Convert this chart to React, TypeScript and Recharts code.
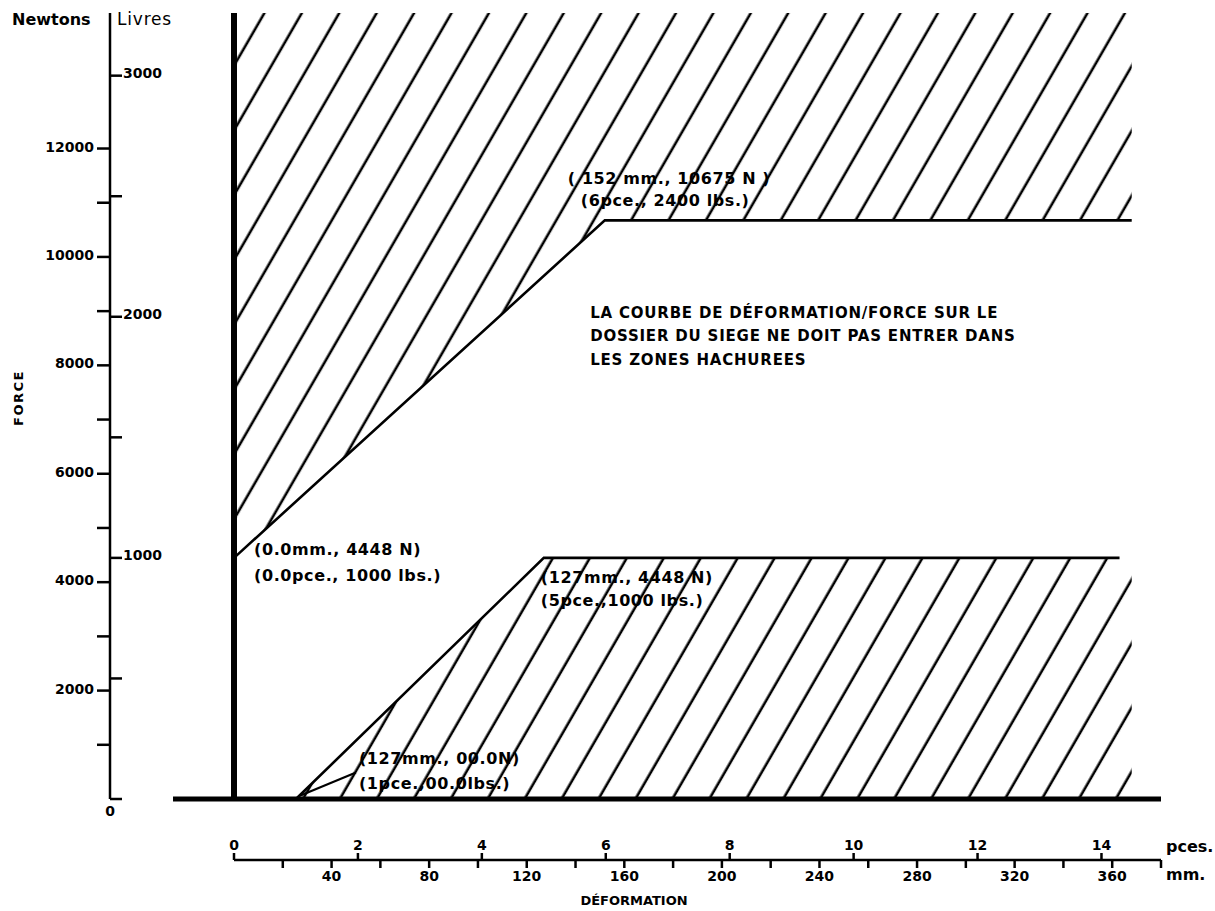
import {
  ComposedChart,
  XAxis,
  YAxis,
  Area,
  Line,
  ReferenceLine,
  ReferenceDot,
  Label,
} from 'recharts';

const FONT = '"DejaVu Sans", sans-serif';
const INK = '#000';

// conversions for the secondary scales
const N_PER_LB = 4.448;
const MM_PER_IN = 25.4;

const FORCE_MAX = 14500; // N, top of the drawing
const DEFORM_MAX = 380; // mm

// tick values
const NEWTON_TICKS = [0, 1000, 2000, 3000, 4000, 5000, 6000, 7000, 8000, 9000, 10000, 11000, 12000];
const NEWTON_LABELS = [2000, 4000, 6000, 8000, 10000, 12000];
const LBS_TICKS = [0, 500, 1000, 1500, 2000, 2500, 3000];
const LBS_LABELS = [1000, 2000, 3000];
const MM_TICKS = [20, 40, 60, 80, 100, 120, 140, 160, 180, 200, 220, 240, 260, 280, 300, 320, 340, 360, 380];
const MM_LABELS = [40, 80, 120, 160, 200, 240, 280, 320, 360];
const PCES_TICKS = [0, 2, 4, 6, 8, 10, 12, 14];

// hatched zones (mm, N)
const UPPER_LIMIT = [
  { mm: 0, n: 4448 },
  { mm: 152, n: 10675 },
  { mm: 368, n: 10675 },
];
const LOWER_LIMIT = [
  { mm: 25.4, n: 0 },
  { mm: 127, n: 4448 },
  { mm: 368, n: 4448 },
];
// drawn edge of the lower zone stops a bit before the hatching
const LOWER_EDGE = [
  { mm: 25.4, n: 0 },
  { mm: 127, n: 4448 },
  { mm: 363, n: 4448 },
];
const LEADER = [
  { mm: 27, n: 60 },
  { mm: 50, n: 490 },
];
const GROUND = [
  { x: -25, y: 0 },
  { x: DEFORM_MAX, y: 0 },
];

const POINT_NOTES = [
  { mm: 0, n: 4448, lines: ['(0.0mm., 4448 N)', '(0.0pce., 1000 lbs.)'] },
  { mm: 127, n: 4448, lines: ['(127mm., 4448 N)', '(5pce.,1000 lbs.)'] },
  { mm: 25.4, n: 0, lines: ['(127mm., 00.0N)', '(1pce.,00.0lbs.)'] },
  { mm: 152, n: 10675, lines: ['( 152 mm., 10675 N )', '(6pce., 2400 lbs.)'] },
];
// pixel shift of each text line from its point
const NOTE_SHIFTS = [
  [[20, -8], [20, 18]],
  [[-3, 20], [-3, 43]],
  [[63, -41], [63, -16]],
  [[-37, -42], [-24, -20]],
];

const WARNING = [
  'LA COURBE DE DÉFORMATION/FORCE SUR LE',
  'DOSSIER DU SIEGE NE DOIT PAS ENTRER DANS',
  'LES ZONES HACHUREES',
];
const WARNING_AT = { mm: 146, n: 8970 };

const NEWTON_W = 110;
const LBS_W = 124;
const PCES_H = 61;
const MM_H = 44;

const numStyle = { fontFamily: FONT, fontWeight: 700, fontSize: 14, fill: INK };

const NewtonTick = ({ x, y, payload }: any) => {
  const v = payload.value;
  if (v === 0) {
    return (
      <text x={x} y={y + 12} textAnchor="middle" dominantBaseline="central" style={numStyle}>
        0
      </text>
    );
  }
  return (
    <g>
      <line x1={x - 13} y1={y} x2={x} y2={y} stroke={INK} strokeWidth={2.5} />
      {NEWTON_LABELS.includes(v) && (
        <text x={x - 16} y={y - 2} textAnchor="end" dominantBaseline="central" style={numStyle}>
          {v}
        </text>
      )}
    </g>
  );
};

// livres ticks hang off the right side of the newton line
const LbsTick = ({ x, y, payload }: any) => {
  const x0 = x - LBS_W;
  const v = payload.value;
  return (
    <g>
      <line x1={x0} y1={y} x2={x0 + 12} y2={y} stroke={INK} strokeWidth={2.5} />
      {LBS_LABELS.includes(v) && (
        <text x={x0 + 13} y={y - 3} dominantBaseline="central" style={numStyle}>
          {v}
        </text>
      )}
    </g>
  );
};

// inch ticks sit on top of the mm line
const PcesTick = ({ x, y, payload }: any) => {
  const y0 = y + PCES_H;
  return (
    <g>
      <line x1={x} y1={y0 - 7} x2={x} y2={y0} stroke={INK} strokeWidth={2.5} />
      <text x={x} y={y0 - 10} textAnchor="middle" style={numStyle}>
        {payload.value}
      </text>
    </g>
  );
};

const Caption = ({ viewBox, text, shiftX = 0, shiftY = 0, size = 16, weight = 700, anchor = 'start', rotate = 0, spacing = 0 }: any) => {
  const x = viewBox.x + shiftX;
  const y = viewBox.y + shiftY;
  return (
    <text
      x={x}
      y={y}
      textAnchor={anchor}
      dominantBaseline="central"
      transform={rotate ? `rotate(${rotate}, ${x}, ${y})` : undefined}
      style={{ fontFamily: FONT, fontWeight: weight, fontSize: size, fill: INK, letterSpacing: spacing }}
    >
      {text}
    </text>
  );
};

const NoteText = ({ viewBox, lines, shifts, size = 16, spacing = 0.6, gap = 0 }: any) => {
  const cx = viewBox.x + viewBox.width / 2;
  const cy = viewBox.y + viewBox.height / 2;
  return (
    <g>
      {lines.map((t: string, i: number) => (
        <text
          key={i}
          x={cx + (shifts ? shifts[i][0] : 0)}
          y={cy + (shifts ? shifts[i][1] : i * gap)}
          dominantBaseline="central"
          style={{ fontFamily: FONT, fontWeight: 700, fontSize: size, fill: INK, letterSpacing: spacing }}
        >
          {t}
        </text>
      ))}
    </g>
  );
};

export default function App() {
  const upperZone = UPPER_LIMIT.map((p) => ({ mm: p.mm, lo: p.n, hi: FORCE_MAX }));
  // same limit expressed in inches, only so the inch scale has data behind it
  const upperInches = UPPER_LIMIT.map((p) => ({ in: p.mm / MM_PER_IN, n: p.n }));

  return (
    <div style={{ position: 'absolute', left: 0, top: 0, background: '#fff' }}>
      <ComposedChart width={1215} height={911} margin={{ top: 13, right: 54, bottom: 7, left: 0 }}>
        <defs>
          <pattern id="hatchUp" patternUnits="userSpaceOnUse" width={32.4} height={32} patternTransform="rotate(30)">
            <line x1={8.7} y1={-2} x2={8.7} y2={34} stroke={INK} strokeWidth={2.6} />
          </pattern>
          <pattern id="hatchLow" patternUnits="userSpaceOnUse" width={32} height={32} patternTransform="rotate(30)">
            <line x1={21.8} y1={-2} x2={21.8} y2={34} stroke={INK} strokeWidth={2.6} />
          </pattern>
        </defs>

        <XAxis
          xAxisId="in"
          dataKey="in"
          type="number"
          orientation="bottom"
          domain={[0, DEFORM_MAX / MM_PER_IN]}
          allowDataOverflow
          ticks={PCES_TICKS}
          interval={0}
          height={PCES_H}
          tickSize={0}
          tickMargin={0}
          axisLine={false}
          tickLine={false}
          tick={PcesTick}
          label={<Caption text="pces." shiftX={927 + 5} shiftY={47} size={16} />}
        />
        <XAxis
          xAxisId="mm"
          dataKey="mm"
          type="number"
          orientation="bottom"
          domain={[0, DEFORM_MAX]}
          allowDataOverflow
          ticks={MM_TICKS}
          interval={0}
          height={MM_H}
          tickSize={8}
          tickMargin={3}
          axisLine={{ stroke: INK, strokeWidth: 2.5 }}
          tickLine={{ stroke: INK, strokeWidth: 2.5 }}
          tick={numStyle}
          tickFormatter={(v: number) => (MM_LABELS.includes(v) ? String(v) : '')}
        >
          <Label content={<Caption text="mm." shiftX={927 + 5} shiftY={14} size={16} />} />
          <Label content={<Caption text="DÉFORMATION" shiftX={400} shiftY={40} size={13} anchor="middle" />} />
        </XAxis>

        <YAxis
          yAxisId="lbs"
          type="number"
          orientation="left"
          domain={[0, FORCE_MAX / N_PER_LB]}
          allowDataOverflow
          ticks={LBS_TICKS}
          interval={0}
          width={LBS_W}
          tickSize={0}
          tickMargin={0}
          axisLine={false}
          tickLine={false}
          tick={LbsTick}
          label={<Caption text="Livres" shiftX={7} shiftY={6} size={17} weight={400} spacing={0.8} />}
        />
        <YAxis
          yAxisId="n"
          type="number"
          orientation="left"
          domain={[0, FORCE_MAX]}
          allowDataOverflow
          ticks={NEWTON_TICKS}
          interval={0}
          width={NEWTON_W}
          tickSize={0}
          tickMargin={0}
          axisLine={{ stroke: INK, strokeWidth: 2.5 }}
          tickLine={false}
          tick={NewtonTick}
        >
          <Label content={<Caption text="Newtons" shiftX={12} shiftY={6} size={16} />} />
          <Label content={<Caption text="FORCE" shiftX={18} shiftY={385} size={13} rotate={-90} anchor="middle" spacing={1.5} />} />
        </YAxis>

        <Area
          xAxisId="mm"
          yAxisId="n"
          data={upperZone}
          dataKey={(d: any) => [d.lo, d.hi]}
          type="linear"
          stroke="none"
          fill="url(#hatchUp)"
          fillOpacity={1}
          isAnimationActive={false}
          activeDot={false}
        />
        <Area
          xAxisId="mm"
          yAxisId="n"
          data={LOWER_LIMIT}
          dataKey="n"
          baseValue={0}
          type="linear"
          stroke="none"
          fill="url(#hatchLow)"
          fillOpacity={1}
          isAnimationActive={false}
          activeDot={false}
        />

        <Line
          xAxisId="in"
          yAxisId="n"
          data={upperInches}
          dataKey="n"
          type="linear"
          stroke="none"
          dot={false}
          activeDot={false}
          legendType="none"
          isAnimationActive={false}
        />
        <Line
          xAxisId="mm"
          yAxisId="n"
          data={UPPER_LIMIT}
          dataKey="n"
          type="linear"
          stroke={INK}
          strokeWidth={2.6}
          dot={false}
          activeDot={false}
          isAnimationActive={false}
        />
        <Line
          xAxisId="mm"
          yAxisId="n"
          data={LOWER_EDGE}
          dataKey="n"
          type="linear"
          stroke={INK}
          strokeWidth={2.6}
          dot={false}
          activeDot={false}
          isAnimationActive={false}
        />
        <Line
          xAxisId="mm"
          yAxisId="n"
          data={LEADER}
          dataKey="n"
          type="linear"
          stroke={INK}
          strokeWidth={2.2}
          dot={false}
          activeDot={false}
          isAnimationActive={false}
        />

        <ReferenceLine xAxisId="mm" yAxisId="n" x={0} stroke={INK} strokeWidth={6} />
        <ReferenceLine
          xAxisId="mm"
          yAxisId="n"
          segment={GROUND}
          ifOverflow="visible"
          stroke={INK}
          strokeWidth={5}
        />

        {POINT_NOTES.map((p, i) => (
          <ReferenceDot
            key={i}
            xAxisId="mm"
            yAxisId="n"
            x={p.mm}
            y={p.n}
            r={0}
            fill="none"
            stroke="none"
            ifOverflow="visible"
            label={<NoteText lines={p.lines} shifts={NOTE_SHIFTS[i]} />}
          />
        ))}
        <ReferenceDot
          xAxisId="mm"
          yAxisId="n"
          x={WARNING_AT.mm}
          y={WARNING_AT.n}
          r={0}
          fill="none"
          stroke="none"
          label={<NoteText lines={WARNING} gap={23.5} size={15} spacing={0.8} />}
        />
      </ComposedChart>
    </div>
  );
}
